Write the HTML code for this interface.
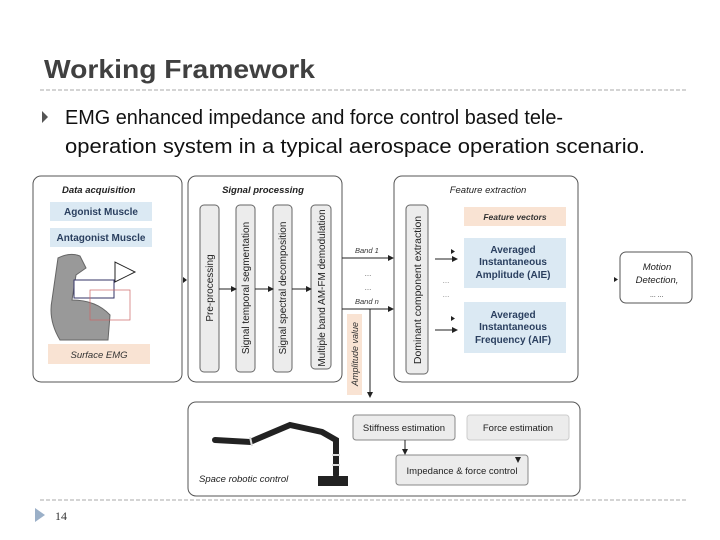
<!DOCTYPE html>
<html><head><meta charset="utf-8"><style>
html,body{margin:0;padding:0;background:#fff;}
svg{display:block;}
</style></head><body>
<svg width="720" height="540" viewBox="0 0 720 540" xmlns="http://www.w3.org/2000/svg" font-family="Liberation Sans, sans-serif">
<defs>
<marker id="a" markerWidth="6" markerHeight="6" refX="5" refY="3" orient="auto"><path d="M0,0 L6,3 L0,6z" fill="#222"/></marker>
</defs>
<rect width="720" height="540" fill="#fff"/>
<text x="44" y="78" font-size="26" font-weight="bold" fill="#404040" textLength="271" lengthAdjust="spacingAndGlyphs">Working Framework</text>
<line x1="40" y1="90" x2="688" y2="90" stroke="#aaa" stroke-dasharray="4,2"/>
<path d="M42,111 L48,117 L42,123z" fill="#555"/>
<text x="65" y="124" font-size="20" fill="#111" textLength="498" lengthAdjust="spacingAndGlyphs">EMG enhanced impedance and force control based tele-</text>
<text x="65" y="153" font-size="20" fill="#111" textLength="580" lengthAdjust="spacingAndGlyphs">operation system in a typical aerospace operation scenario.</text>

<!-- Data acquisition -->
<rect x="33" y="176" width="149" height="206" rx="8" fill="#fff" stroke="#555"/>
<text x="62" y="193" font-size="9.5" font-style="italic" font-weight="bold" fill="#222">Data acquisition</text>
<rect x="50" y="202" width="102" height="19" fill="#dbe9f3"/>
<text x="101" y="215" font-size="10" font-weight="bold" fill="#2a3f5f" text-anchor="middle">Agonist Muscle</text>
<rect x="50" y="228" width="102" height="19" fill="#dbe9f3"/>
<text x="101" y="241" font-size="10" font-weight="bold" fill="#2a3f5f" text-anchor="middle">Antagonist Muscle</text>
<path d="M58,258 Q70,252 80,256 L86,268 L76,275 L72,300 Q96,300 110,315 L108,340 L60,340 Q48,320 52,300z" fill="#999" stroke="#666"/>
<rect x="74" y="280" width="40" height="18" fill="#fff" stroke="#336" stroke-width="1"/>
<path d="M115,262 L115,282 L135,272z" fill="#fff" stroke="#222"/>
<rect x="90" y="290" width="40" height="30" fill="none" stroke="#c66" stroke-width="0.7"/>
<rect x="48" y="344" width="102" height="20" fill="#f9e3d3"/>
<text x="99" y="358" font-size="9.5" font-style="italic" fill="#333" text-anchor="middle">Surface EMG</text>

<!-- Signal processing -->
<rect x="188" y="176" width="154" height="206" rx="8" fill="#fff" stroke="#555"/>
<text x="263" y="193" font-size="9.5" font-style="italic" font-weight="bold" fill="#222" text-anchor="middle">Signal processing</text>
<g fill="#ececec" stroke="#666">
<rect x="200" y="205" width="19" height="167" rx="4"/>
<rect x="236" y="205" width="19" height="167" rx="4"/>
<rect x="273" y="205" width="19" height="167" rx="4"/>
<rect x="311" y="205" width="20" height="164" rx="4"/>
</g>
<g font-size="10" fill="#222" text-anchor="middle">
<text transform="translate(213,288) rotate(-90)">Pre-processing</text>
<text transform="translate(249,288) rotate(-90)">Signal temporal segmentation</text>
<text transform="translate(286,288) rotate(-90)">Signal spectral decomposition</text>
<text transform="translate(325,288) rotate(-90)">Multiple band AM-FM demodulation</text>
</g>
<g stroke="#222" marker-end="url(#a)">
<line x1="219" y1="289" x2="236" y2="289"/>
<line x1="255" y1="289" x2="273" y2="289"/>
<line x1="292" y1="289" x2="311" y2="289"/>
<line x1="342" y1="258" x2="393" y2="258"/>
<line x1="342" y1="309" x2="393" y2="309"/>
<line x1="370" y1="309" x2="370" y2="397"/>
</g>
<path d="M183,277 L187,280 L183,283z" fill="#222"/>
<text x="355" y="253" font-size="7.5" font-style="italic" fill="#333">Band 1</text>
<text x="355" y="304" font-size="7.5" font-style="italic" fill="#333">Band n</text>
<text x="368" y="276" font-size="8" fill="#666" text-anchor="middle">...</text>
<text x="368" y="290" font-size="8" fill="#666" text-anchor="middle">...</text>
<rect x="347" y="314" width="15" height="81" fill="#f9e3d3"/>
<text transform="translate(358,354) rotate(-90)" font-size="9" font-style="italic" fill="#333" text-anchor="middle">Amplitude value</text>

<!-- Feature extraction -->
<rect x="394" y="176" width="184" height="206" rx="8" fill="#fff" stroke="#555"/>
<text x="488" y="193" font-size="9.5" font-style="italic" fill="#222" text-anchor="middle">Feature extraction</text>
<rect x="406" y="205" width="22" height="169" rx="4" fill="#ececec" stroke="#666"/>
<text transform="translate(421,290) rotate(-90)" font-size="10.5" fill="#222" text-anchor="middle">Dominant component extraction</text>
<rect x="464" y="207" width="102" height="19" fill="#f9e3d3"/>
<text x="515" y="220" font-size="8.5" font-style="italic" font-weight="bold" fill="#333" text-anchor="middle">Feature vectors</text>
<rect x="464" y="238" width="102" height="50" fill="#dbe9f3"/>
<g font-size="10" font-weight="bold" fill="#2a3f5f" text-anchor="middle">
<text x="513" y="253">Averaged</text><text x="513" y="265">Instantaneous</text><text x="513" y="278">Amplitude (AIE)</text>
</g>
<rect x="464" y="302" width="102" height="51" fill="#dbe9f3"/>
<g font-size="10" font-weight="bold" fill="#2a3f5f" text-anchor="middle">
<text x="513" y="318">Averaged</text><text x="513" y="330">Instantaneous</text><text x="513" y="343">Frequency (AIF)</text>
</g>
<g stroke="#222" marker-end="url(#a)">
<line x1="435" y1="259" x2="457" y2="259"/>
<line x1="435" y1="330" x2="457" y2="330"/>
</g>
<path d="M451,249 L455,251.5 L451,254z M451,316 L455,318.5 L451,321z" fill="#222"/>
<text x="446" y="283" font-size="8" fill="#888" text-anchor="middle">...</text>
<text x="446" y="297" font-size="8" fill="#888" text-anchor="middle">...</text>

<!-- Motion detection -->
<rect x="620" y="252" width="72" height="51" rx="6" fill="#fff" stroke="#555"/>
<g font-size="9.5" font-style="italic" fill="#222" text-anchor="middle">
<text x="657" y="270">Motion</text><text x="657" y="283">Detection,</text><text x="657" y="297" font-size="7">... ...</text>
</g>
<path d="M614,277 L618,279.5 L614,282z" fill="#222"/>

<!-- Bottom -->
<rect x="188" y="402" width="392" height="94" rx="8" fill="#fff" stroke="#555"/>
<g stroke="#222" stroke-width="6" stroke-linecap="round" fill="none">
<path d="M215,440 L250,442 L290,425 L322,432 L336,440 L336,475"/>
</g>
<g stroke="#ddd" stroke-width="2"><line x1="250" y1="437" x2="252" y2="446"/><line x1="332" y1="455" x2="340" y2="455"/><line x1="332" y1="465" x2="340" y2="465"/></g>
<rect x="318" y="476" width="30" height="10" fill="#222"/>
<text x="199" y="482" font-size="9.5" font-style="italic" fill="#222">Space robotic control</text>
<rect x="353" y="415" width="102" height="25" rx="3" fill="#ececec" stroke="#888"/>
<text x="404" y="431" font-size="9.5" fill="#222" text-anchor="middle">Stiffness estimation</text>
<rect x="467" y="415" width="102" height="25" rx="3" fill="#ececec" stroke="#ccc"/>
<text x="518" y="431" font-size="9.5" fill="#222" text-anchor="middle">Force estimation</text>
<rect x="396" y="455" width="132" height="30" rx="3" fill="#ececec" stroke="#888"/>
<text x="462" y="474" font-size="9.5" fill="#222" text-anchor="middle">Impedance &amp; force control</text>
<line x1="405" y1="440" x2="405" y2="454" stroke="#222" marker-end="url(#a)"/>
<path d="M515,457 L518,463 L521,457z" fill="#222"/>

<line x1="40" y1="500" x2="688" y2="500" stroke="#aaa" stroke-dasharray="4,2"/>
<path d="M35,508 L45,515 L35,522z" fill="#9bb0c8"/>
<text x="55" y="520" font-size="12" font-family="Liberation Serif, serif" fill="#333">14</text>
</svg>
</body></html>
